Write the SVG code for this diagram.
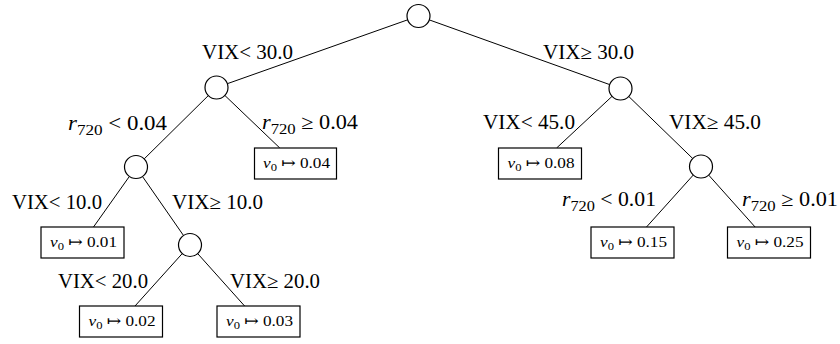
<svg xmlns="http://www.w3.org/2000/svg" width="840" height="344" viewBox="0 0 840 344">
  <style>
    .split { fill: #fff; stroke: #000; stroke-width: 1.2; }
    .leaf { fill: #fff; stroke: #000; stroke-width: 1.2; }
    .edge { stroke: #000; stroke-width: 1; fill: none; }
    .lbl { font-family: "Liberation Serif", "DejaVu Serif", serif; font-size: 20px; fill: #000; }
    .val { font-family: "Liberation Serif", "DejaVu Serif", serif; font-size: 15px; fill: #000; text-anchor: middle; }
    .it { font-style: italic; }
  </style>

  <!-- connectors: centre to centre, clipped at the shape borders -->
  <g id="edges" class="edge">
    <line x1="407.7" y1="19.8" x2="227.3" y2="83.7"/>
    <line x1="429.3" y1="19.9" x2="609.7" y2="84.6"/>
    <line x1="208.3" y1="95.6" x2="144.2" y2="158.9"/>
    <line x1="224.8" y1="95.4" x2="279.8" y2="148"/>
    <line x1="129.4" y1="176.4" x2="93.5" y2="227"/>
    <line x1="142.5" y1="176.5" x2="183.5" y2="235.5"/>
    <line x1="182.3" y1="253.5" x2="135.0" y2="306"/>
    <line x1="197.7" y1="253.6" x2="244.6" y2="306"/>
    <line x1="612.1" y1="96.3" x2="556.6" y2="148"/>
    <line x1="628.8" y1="96.5" x2="692.7" y2="158.5"/>
    <line x1="693.3" y1="175.0" x2="646.5" y2="227"/>
    <line x1="708.7" y1="175.1" x2="755.1" y2="227"/>
  </g>

  <!-- split nodes -->
  <g id="root"><circle class="split" cx="418.5" cy="16" r="11.5"/></g>
  <g id="vix30lo"><circle class="split" cx="216.5" cy="87.5" r="11.5"/></g>
  <g id="vix30hi"><circle class="split" cx="620.5" cy="88.5" r="11.5"/></g>
  <g id="r720lo"><circle class="split" cx="136" cy="167" r="11.5"/></g>
  <g id="vix10hi"><circle class="split" cx="190" cy="245" r="11.5"/></g>
  <g id="vix45hi"><circle class="split" cx="701" cy="166.5" r="11.5"/></g>

  <!-- leaves -->
  <g id="leaf004">
    <rect class="leaf" x="254.5" y="148" width="82" height="31"/>
    <text class="val" x="296.5" y="167.5" textLength="67" lengthAdjust="spacingAndGlyphs"><tspan class="it">v</tspan><tspan font-size="11" dy="3">0</tspan><tspan dy="-3"> ↦ 0.04</tspan></text>
  </g>
  <g id="leaf001">
    <rect class="leaf" x="41" y="227" width="83" height="31"/>
    <text class="val" x="83.5" y="246.5" textLength="67" lengthAdjust="spacingAndGlyphs"><tspan class="it">v</tspan><tspan font-size="11" dy="3">0</tspan><tspan dy="-3"> ↦ 0.01</tspan></text>
  </g>
  <g id="leaf002">
    <rect class="leaf" x="79.5" y="306" width="83" height="31"/>
    <text class="val" x="122" y="325.5" textLength="67" lengthAdjust="spacingAndGlyphs"><tspan class="it">v</tspan><tspan font-size="11" dy="3">0</tspan><tspan dy="-3"> ↦ 0.02</tspan></text>
  </g>
  <g id="leaf003">
    <rect class="leaf" x="217" y="306" width="83" height="31"/>
    <text class="val" x="259.5" y="325.5" textLength="67" lengthAdjust="spacingAndGlyphs"><tspan class="it">v</tspan><tspan font-size="11" dy="3">0</tspan><tspan dy="-3"> ↦ 0.03</tspan></text>
  </g>
  <g id="leaf008">
    <rect class="leaf" x="498.5" y="148" width="83" height="31"/>
    <text class="val" x="541" y="167.5" textLength="67" lengthAdjust="spacingAndGlyphs"><tspan class="it">v</tspan><tspan font-size="11" dy="3">0</tspan><tspan dy="-3"> ↦ 0.08</tspan></text>
  </g>
  <g id="leaf015">
    <rect class="leaf" x="591" y="227" width="83" height="31"/>
    <text class="val" x="633.5" y="246.5" textLength="67" lengthAdjust="spacingAndGlyphs"><tspan class="it">v</tspan><tspan font-size="11" dy="3">0</tspan><tspan dy="-3"> ↦ 0.15</tspan></text>
  </g>
  <g id="leaf025">
    <rect class="leaf" x="727.5" y="227" width="83" height="31"/>
    <text class="val" x="770" y="246.5" textLength="67" lengthAdjust="spacingAndGlyphs"><tspan class="it">v</tspan><tspan font-size="11" dy="3">0</tspan><tspan dy="-3"> ↦ 0.25</tspan></text>
  </g>

  <!-- branch conditions -->
  <g id="labels" class="lbl">
    <text x="202" y="59" textLength="91" lengthAdjust="spacingAndGlyphs">VIX&lt; 30.0</text>
    <text x="543" y="59" textLength="91" lengthAdjust="spacingAndGlyphs">VIX≥ 30.0</text>
    <text x="483" y="129" textLength="92" lengthAdjust="spacingAndGlyphs">VIX&lt; 45.0</text>
    <text x="669" y="129" textLength="92" lengthAdjust="spacingAndGlyphs">VIX≥ 45.0</text>
    <text x="12" y="209" textLength="90" lengthAdjust="spacingAndGlyphs">VIX&lt; 10.0</text>
    <text x="172" y="209" textLength="91" lengthAdjust="spacingAndGlyphs">VIX≥ 10.0</text>
    <text x="58" y="288" textLength="90" lengthAdjust="spacingAndGlyphs">VIX&lt; 20.0</text>
    <text x="230" y="288" textLength="90" lengthAdjust="spacingAndGlyphs">VIX≥ 20.0</text>
    <text x="68" y="130" textLength="99" lengthAdjust="spacingAndGlyphs"><tspan class="it">r</tspan><tspan font-size="15" dy="5">720</tspan><tspan dy="-5"> &lt; 0.04</tspan></text>
    <text x="262" y="129" textLength="96" lengthAdjust="spacingAndGlyphs"><tspan class="it">r</tspan><tspan font-size="15" dy="5">720</tspan><tspan dy="-5"> ≥ 0.04</tspan></text>
    <text x="562" y="206" textLength="94" lengthAdjust="spacingAndGlyphs"><tspan class="it">r</tspan><tspan font-size="15" dy="5">720</tspan><tspan dy="-5"> &lt; 0.01</tspan></text>
    <text x="742" y="206" textLength="96" lengthAdjust="spacingAndGlyphs"><tspan class="it">r</tspan><tspan font-size="15" dy="5">720</tspan><tspan dy="-5"> ≥ 0.01</tspan></text>
  </g>
</svg>
